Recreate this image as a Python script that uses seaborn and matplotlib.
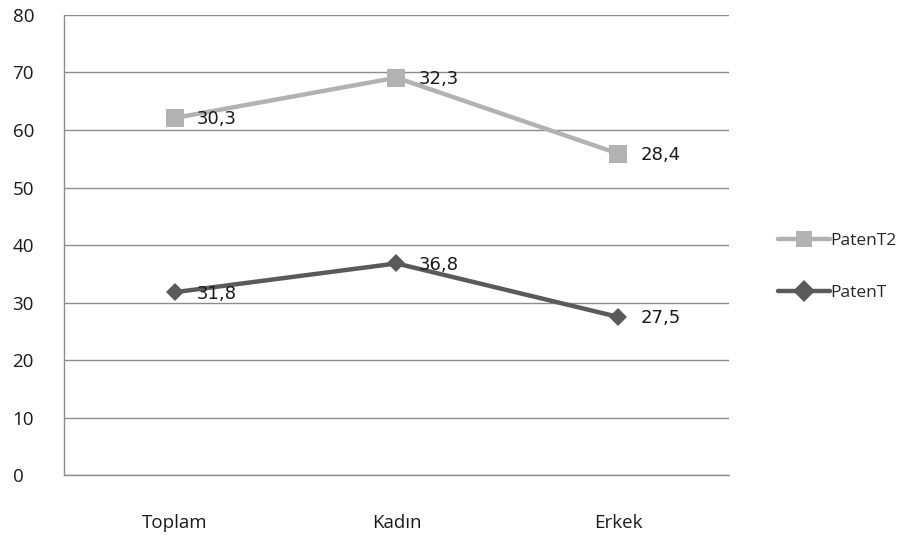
import matplotlib
matplotlib.use("Agg")
import matplotlib.pyplot as plt
import seaborn as sns
import pandas as pd
import numpy as np

# Stacked line chart values
categories = ["Toplam", "Kadın", "Erkek"]
paten_t = [31.8, 36.8, 27.5]
paten_t2 = [30.3, 32.3, 28.4]
y_ticks = [0, 10, 20, 30, 40, 50, 60, 70, 80]

sns.set_theme(style="white")
plt.rcParams["font.family"] = ["Open Sans", "DejaVu Sans"]

stack_top = [a + b for a, b in zip(paten_t, paten_t2)]
df = pd.DataFrame({
    "cat": list(range(len(categories))) * 2,
    "value": stack_top + paten_t,
    "label": paten_t2 + paten_t,
    "series": ["PatenT2"] * 3 + ["PatenT"] * 3,
})

fig = plt.figure(figsize=(9.21, 5.35), dpi=100)
ax = fig.add_axes([0.0695, 0.112, 0.722, 0.860])

palette = {"PatenT2": "#b2b2b2", "PatenT": "#5a5a5a"}
markers = {"PatenT2": "s", "PatenT": "D"}
sizes = {"PatenT2": 12.5, "PatenT": 9.5}

for name in ["PatenT2", "PatenT"]:
    sub = df[df["series"] == name]
    sns.lineplot(data=sub, x="cat", y="value", ax=ax, color=palette[name],
                 marker=markers[name], markersize=sizes[name], markeredgewidth=0,
                 linewidth=3.2, label=name, zorder=3)
    for _, r in sub.iterrows():
        ax.annotate(f"{r['label']:.1f}".replace(".", ","), (r["cat"], r["value"]),
                    xytext=(16, -1), textcoords="offset points",
                    ha="left", va="center", fontsize=13, color="#1a1a1a",
                    family="DejaVu Sans", zorder=4)

ax.set_xlim(-0.5, 2.5)
ax.set_ylim(0, 80)
ax.set_yticks(y_ticks)
ax.set_xticks(range(len(categories)))
ax.set_xticklabels(categories)
ax.set_xlabel("")
ax.set_ylabel("")
ax.yaxis.grid(True, color="#8c8c8c", linewidth=1.0)
ax.set_axisbelow(True)
for side in ["top", "right"]:
    ax.spines[side].set_visible(False)
for side in ["left", "bottom"]:
    ax.spines[side].set_color("#8c8c8c")
    ax.spines[side].set_linewidth(1.0)
ax.tick_params(axis="both", length=0, labelsize=13.5, colors="#1a1a1a")
ax.tick_params(axis="x", pad=28)
for t in ax.get_yticklabels():
    t.set_horizontalalignment("left")
ax.yaxis.set_tick_params(pad=37)

leg = ax.legend(loc="center left", bbox_to_anchor=(1.05, 0.452), frameon=False,
                fontsize=12.5, handlelength=3.0, handletextpad=0.0,
                labelspacing=2.1)
for h in leg.legend_handles:
    h.set_markersize(11)

fig.savefig("out.png", dpi=100)
